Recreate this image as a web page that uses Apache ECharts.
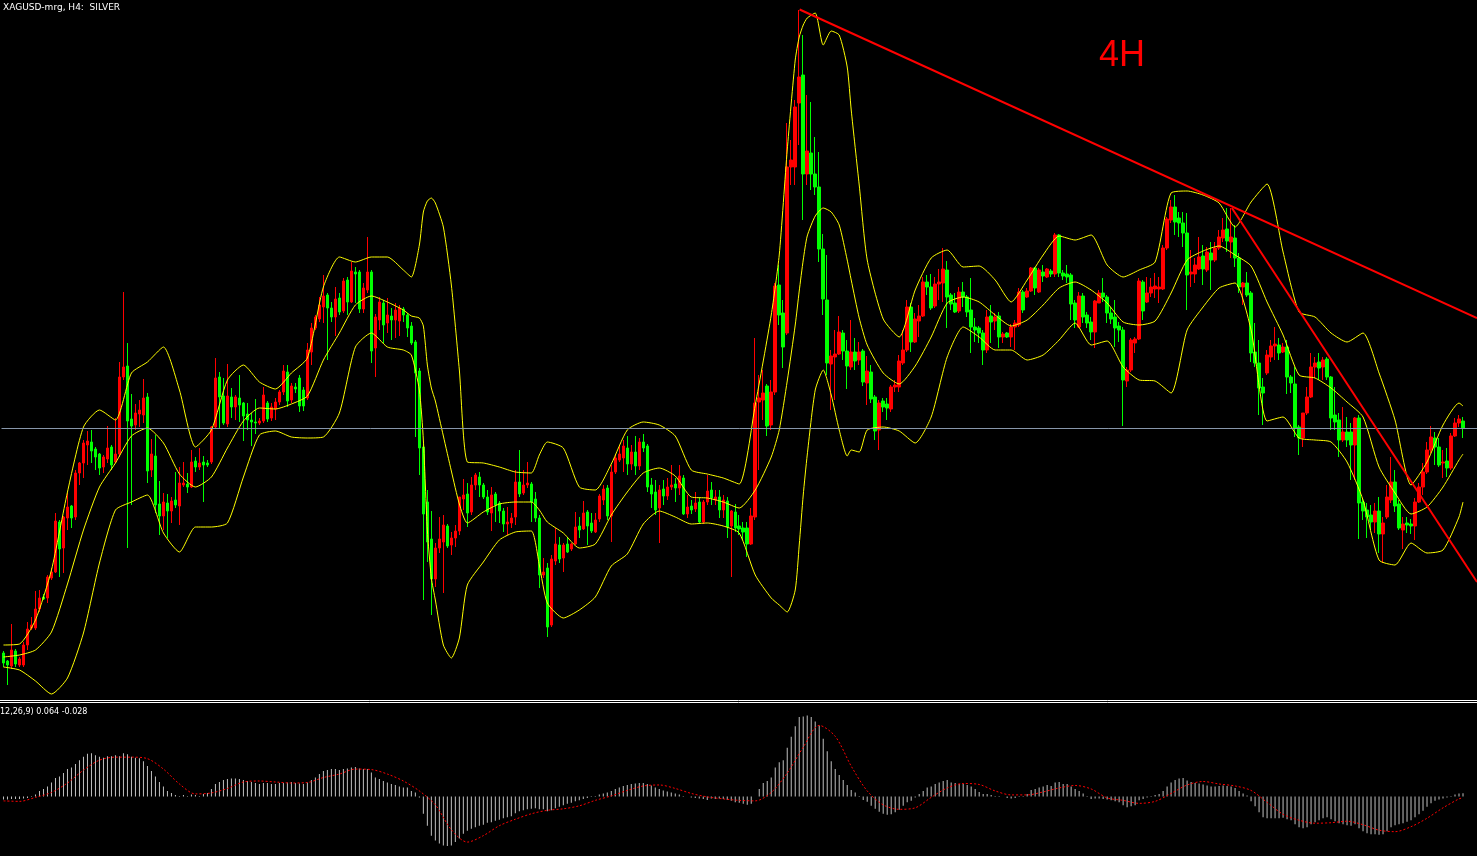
<!DOCTYPE html>
<html><head><meta charset="utf-8">
<script src="https://cdn.jsdelivr.net/npm/echarts@6/dist/echarts.min.js"></script>
<style>html,body{margin:0;padding:0;background:#000;overflow:hidden}#c{width:1477px;height:856px}</style>
</head><body><div id="c"></div>
<script>
// ---- XAGUSD H4 candles ----
const openP = [16.47,16.39,16.34,16.49,16.35,16.35,16.55,16.72,16.72,16.91,
17.03,17.02,17.22,17.28,17.78,17.52,17.82,17.94,17.83,18.27,
18.37,18.55,18.58,18.51,18.46,18.33,18.41,18.53,18.38,18.46,
19.23,19.34,18.81,18.75,18.86,18.85,19.03,18.30,18.44,17.96,
17.84,17.97,17.89,18.00,17.94,18.15,18.16,18.13,18.39,18.33,
18.38,18.37,18.38,18.73,19.23,19.04,18.76,19.03,18.93,19.02,
18.97,18.86,18.80,18.78,18.77,18.79,18.97,18.82,18.91,18.98,
19.08,19.28,19.00,19.13,19.22,19.10,19.02,19.48,19.72,19.81,
19.93,20.05,19.92,19.83,20.02,19.89,20.20,19.98,20.28,20.28,
19.91,20.10,20.28,19.52,19.80,19.97,19.77,19.84,19.80,19.79,
19.91,19.85,19.74,19.58,19.29,18.53,17.98,17.61,17.21,17.52,
17.58,17.74,17.55,17.62,17.69,18.01,18.06,17.88,18.15,18.23,
18.15,18.03,17.87,18.06,17.97,17.89,17.76,17.77,17.83,18.18,
18.07,18.15,18.16,18.01,17.82,17.25,17.32,16.75,17.39,17.55,
17.42,17.56,17.51,17.56,17.74,17.71,17.88,17.77,17.68,17.81,
18.00,18.12,17.84,18.28,18.40,18.42,18.52,18.36,18.48,18.34,
18.58,18.54,18.15,18.08,17.92,18.11,18.04,18.13,18.16,18.12,
18.22,17.86,17.94,17.91,17.98,17.78,17.98,18.10,18.00,18.03,
17.90,17.99,17.74,17.88,17.74,17.72,17.72,17.56,17.83,18.98,
19.00,19.14,18.75,19.08,20.15,19.87,19.67,21.33,21.33,21.97,
22.25,21.26,21.47,21.26,21.13,20.51,20.00,19.36,19.43,19.46,
19.67,19.49,19.33,19.48,19.40,19.49,19.17,19.28,19.03,18.70,
18.99,18.96,18.91,19.13,19.13,19.37,19.50,19.93,19.58,19.79,
19.84,20.18,20.13,19.94,20.16,20.17,20.30,20.05,19.97,19.89,
20.08,20.03,19.90,19.73,19.72,19.67,19.50,19.84,19.79,19.84,
19.63,19.67,19.63,19.73,19.75,20.08,20.03,20.09,20.32,20.08,
20.28,20.23,20.29,20.26,20.65,20.27,20.26,20.25,19.97,19.73,
20.04,19.85,19.78,19.68,19.97,20.07,20.03,19.87,19.83,19.74,
19.70,19.19,19.30,19.57,19.61,20.18,19.98,20.07,20.11,20.11,
20.11,20.52,20.80,20.93,20.82,20.77,20.67,20.26,20.26,20.31,
20.44,20.30,20.47,20.40,20.52,20.62,20.71,20.58,20.62,20.42,
20.13,20.17,20.07,19.48,19.37,19.13,19.27,19.43,19.54,19.55,
19.48,19.53,19.23,19.16,18.73,18.62,18.87,19.03,19.33,19.38,
19.33,19.41,19.23,18.85,18.80,18.60,18.68,18.68,18.55,18.82,
17.98,17.90,17.85,17.78,17.89,17.66,17.83,18.00,18.18,17.96,
17.70,17.77,17.76,17.74,17.98,18.13,18.28,18.50,18.62,18.53,
18.37,18.39,18.32,18.64,18.77,18.79];
const closeP = [16.37,16.35,16.50,16.36,16.41,16.55,16.71,16.75,16.91,17.02,
17.01,17.23,17.28,17.79,17.51,17.83,17.93,17.82,18.27,18.37,
18.57,18.59,18.49,18.43,18.32,18.43,18.52,18.35,18.46,19.23,
19.33,18.79,18.74,18.87,18.90,19.02,18.29,18.46,17.95,17.84,
17.98,17.89,17.99,17.95,18.17,18.17,18.13,18.38,18.33,18.37,
18.35,18.35,18.73,19.22,19.03,18.77,19.04,18.93,19.03,18.95,
18.84,18.80,18.78,18.77,18.79,19.05,18.81,18.93,18.98,19.08,
19.29,18.99,19.14,19.11,18.94,18.94,19.50,19.72,19.83,19.95,
20.04,19.92,19.83,20.01,19.88,20.19,19.98,20.29,20.26,19.91,
20.12,20.28,19.49,19.83,19.98,19.75,19.85,19.80,19.90,19.92,
19.85,19.72,19.57,19.27,18.52,17.86,17.58,17.21,17.52,17.61,
17.75,17.54,17.62,17.69,18.03,18.05,17.87,18.15,18.25,18.15,
18.03,17.88,18.05,17.95,17.89,17.76,17.78,17.82,18.18,18.06,
18.15,18.17,17.98,17.82,17.25,17.28,16.73,17.41,17.56,17.41,
17.55,17.48,17.56,17.73,17.70,17.87,17.74,17.69,17.80,18.04,
18.11,17.84,18.28,18.42,18.46,18.54,18.36,18.48,18.34,18.58,
18.52,18.13,18.06,17.90,18.10,18.04,18.13,18.15,18.12,18.24,
17.86,17.93,17.90,17.97,17.78,17.98,18.09,18.02,18.03,17.90,
18.00,17.73,17.89,17.72,17.71,17.68,17.56,17.84,18.97,19.02,
19.07,18.74,19.08,20.14,19.85,19.53,21.33,21.40,21.93,22.23,
21.26,21.49,21.26,21.13,20.51,20.01,19.37,19.44,19.46,19.68,
19.49,19.34,19.48,19.39,19.48,19.18,19.29,19.01,18.69,18.97,
18.93,18.92,19.13,19.15,19.39,19.50,19.93,19.58,19.81,19.84,
20.18,20.13,19.92,20.16,20.18,20.31,20.03,19.96,19.88,20.08,
20.03,19.88,19.73,19.70,19.67,19.50,19.83,19.78,19.83,19.63,
19.66,19.63,19.73,19.77,20.08,19.90,20.09,20.32,20.12,20.30,
20.24,20.31,20.26,20.65,20.27,20.24,20.23,19.96,19.80,20.04,
19.83,19.77,19.68,19.99,20.07,20.03,19.87,19.81,19.72,19.70,
19.20,19.30,19.60,19.61,20.19,19.89,20.07,20.13,20.14,20.13,
20.52,20.81,20.93,20.78,20.77,20.67,20.25,20.28,20.35,20.43,
20.31,20.48,20.40,20.52,20.63,20.70,20.59,20.63,20.42,20.13,
20.17,20.05,19.47,19.37,19.12,19.07,19.45,19.54,19.56,19.47,
19.53,19.23,19.17,18.72,18.62,18.87,19.03,19.33,19.37,19.32,
19.40,19.23,18.82,18.78,18.60,18.68,18.60,18.55,18.82,17.97,
17.89,17.83,17.78,17.89,17.66,17.77,18.03,18.18,17.94,17.72,
17.76,17.75,17.74,17.98,18.13,18.28,18.50,18.63,18.53,18.35,
18.38,18.32,18.64,18.77,18.81,18.72];
const highP = [16.49,16.40,16.76,16.51,16.43,16.58,16.78,16.83,17.09,17.10,
17.06,17.25,17.32,17.87,17.80,17.84,18.07,17.95,18.30,18.38,
18.60,18.69,18.70,18.53,18.47,18.45,18.74,18.55,18.82,19.38,
20.08,19.57,19.06,18.96,19.00,19.21,19.07,18.61,18.65,18.19,
18.07,18.06,18.03,18.28,18.33,18.38,18.27,18.50,18.43,18.52,
18.44,18.40,18.74,19.42,19.28,19.22,19.36,19.12,19.05,19.25,
18.98,18.97,18.87,19.01,18.82,19.13,18.99,18.97,19.02,19.10,
19.35,19.35,19.17,19.17,19.25,19.13,19.57,19.77,19.85,20.03,
20.25,20.07,19.98,20.13,20.07,20.22,20.23,20.38,20.33,20.30,
20.17,20.63,20.30,19.86,20.03,20.00,20.02,19.92,19.97,19.95,
19.93,19.87,19.78,19.60,19.32,18.57,18.10,17.89,17.57,17.83,
17.85,17.76,17.68,17.75,18.03,18.21,18.17,18.23,18.27,18.28,
18.17,18.10,18.13,18.08,17.99,17.92,17.93,17.87,18.30,18.50,
18.30,18.38,18.18,18.08,17.85,17.42,17.37,17.45,17.72,17.63,
17.57,17.63,17.57,17.88,17.83,17.99,17.90,17.87,17.87,18.06,
18.15,18.15,18.35,18.46,18.54,18.60,18.64,18.55,18.64,18.62,
18.66,18.56,18.22,18.20,18.15,18.20,18.22,18.35,18.22,18.35,
18.25,18.05,18.00,18.08,18.02,18.00,18.25,18.18,18.10,18.10,
18.05,18.03,17.90,17.96,17.85,17.78,17.78,17.92,19.62,19.25,
19.30,19.16,19.20,20.17,20.35,20.00,21.77,21.60,22.00,22.90,
22.65,22.05,21.98,21.63,21.48,20.66,20.45,19.50,19.70,19.84,
19.70,19.60,19.80,19.62,19.58,19.51,19.44,19.35,19.05,19.00,
19.02,19.02,19.15,19.20,19.45,19.70,20.00,19.97,19.87,19.95,
20.23,20.25,20.26,20.23,20.31,20.52,20.39,20.07,20.07,20.13,
20.18,20.05,20.22,19.82,19.74,19.70,19.90,19.95,19.87,19.88,
19.68,19.68,19.76,19.80,20.12,20.10,20.12,20.33,20.33,20.32,
20.35,20.32,20.31,20.67,20.66,20.30,20.35,20.27,20.00,20.08,
20.07,19.88,19.83,20.00,20.10,20.22,20.05,19.93,20.00,19.78,
19.73,19.33,19.62,19.63,20.22,20.20,20.23,20.22,20.27,20.23,
20.55,20.83,21.00,21.05,20.88,20.88,20.87,20.50,20.42,20.63,
20.55,20.53,20.58,20.58,20.70,20.82,20.92,20.92,20.75,20.47,
20.18,20.28,20.09,19.77,19.60,19.22,19.50,19.60,19.73,19.62,
19.57,19.60,19.25,19.33,18.75,18.87,19.13,19.47,19.43,19.47,
19.43,19.43,19.24,19.13,18.87,18.93,18.83,18.77,18.83,18.85,
18.02,17.97,17.95,17.97,18.03,17.83,18.15,18.43,18.30,18.00,
17.83,17.83,17.81,18.02,18.17,18.37,18.58,18.74,18.68,18.62,
18.50,18.52,18.67,18.82,18.85,18.83];
const lowP = [16.33,16.15,16.31,16.33,16.33,16.33,16.50,16.70,16.70,16.88,
17.00,16.97,17.20,17.27,17.23,17.27,17.70,17.72,17.80,18.15,
18.22,18.35,18.37,18.30,18.25,18.27,18.37,18.30,18.37,18.43,
19.20,17.52,17.95,18.70,18.73,18.77,18.17,18.23,17.87,17.65,
17.70,17.62,17.77,17.92,17.75,18.13,18.07,18.12,18.28,18.30,
17.98,18.33,18.36,18.72,18.72,18.75,18.73,18.82,18.80,18.78,
18.59,18.70,18.54,18.66,18.75,18.77,18.78,18.79,18.80,18.95,
19.05,18.93,18.97,19.07,18.88,18.89,19.00,19.35,19.70,19.78,
19.77,19.40,19.78,19.64,19.85,19.87,19.85,19.97,19.97,19.87,
19.87,20.07,19.37,19.23,19.70,19.57,19.67,19.60,19.62,19.64,
19.78,19.63,19.55,18.63,18.25,17.00,17.38,16.85,17.13,17.47,
17.07,17.52,17.45,17.53,17.65,17.90,17.73,17.85,18.10,18.03,
18.01,17.85,17.69,17.78,17.77,17.68,17.65,17.72,17.75,18.03,
18.05,18.12,17.78,17.78,17.12,17.22,16.63,16.73,17.35,17.37,
17.28,17.47,17.49,17.55,17.62,17.70,17.55,17.67,17.67,17.78,
17.95,17.80,17.58,18.26,18.38,18.28,18.25,18.30,18.25,18.30,
18.48,18.08,17.92,17.85,17.57,17.95,18.00,18.10,17.98,18.05,
17.85,17.82,17.86,17.88,17.76,17.76,17.95,17.95,17.95,17.82,
17.82,17.62,17.23,17.68,17.65,17.60,17.43,17.55,17.80,18.30,
18.80,18.64,18.70,19.05,19.75,19.32,19.65,21.15,21.15,21.55,
20.80,21.15,21.10,21.05,20.38,19.85,19.25,18.90,19.00,19.45,
19.40,19.11,19.30,19.30,19.35,19.14,18.95,18.97,18.60,18.50,
18.88,18.80,18.88,19.08,19.08,19.35,19.48,19.48,19.57,19.63,
19.83,20.05,19.90,19.92,20.00,19.98,19.72,19.90,19.87,19.87,
19.93,19.83,19.47,19.58,19.57,19.35,19.47,19.57,19.70,19.52,
19.57,19.62,19.53,19.50,19.73,19.87,20.02,20.08,20.05,20.07,
20.18,20.22,20.23,20.23,20.23,20.20,20.17,19.80,19.72,19.72,
19.77,19.72,19.60,19.52,19.97,19.98,19.77,19.76,19.53,19.58,
18.74,19.13,19.28,19.47,19.60,19.80,19.97,20.03,20.02,19.97,
20.10,20.50,20.77,20.65,20.63,20.53,19.90,20.13,20.17,20.30,
20.15,20.28,20.10,20.38,20.50,20.58,20.48,20.42,20.33,20.07,
19.95,20.03,19.38,19.33,18.85,18.75,19.25,19.38,19.40,19.40,
19.47,19.06,19.07,18.63,18.45,18.53,18.85,19.02,19.22,19.20,
19.20,19.20,18.70,18.70,18.43,18.58,18.53,18.20,18.20,17.61,
17.80,17.62,17.70,17.67,17.47,17.37,17.81,17.97,17.88,17.70,
17.51,17.67,17.66,17.60,17.97,18.05,18.26,18.47,18.35,18.33,
18.22,18.23,18.30,18.63,18.73,18.62];

// ---- Bollinger Bands (at these bar positions) ----
const bandIdx = [0,4,8,12,16,20,24,28,32,36,40,44,48,52,56,60,64,68,72,76,80,84,88,92,96,100,
102,104,105,106,107,108,110,112,114,116,120,124,128,132,134,136,
140,144,148,152,156,160,164,168,172,176,180,184,188,192,
194,196,198,199,200,201,203,205,207,209,211,212,214,216,
220,224,228,232,236,240,244,248,252,256,260,264,268,272,276,280,284,288,292,296,300,304,308,312,316,320,324,328,332,336,340,344,348,352,356,360,364,365];
const bandUpper = [16.55,16.56,16.80,17.30,18.08,18.73,18.90,18.80,19.27,19.38,19.53,19.10,18.53,18.70,19.20,19.35,19.18,19.11,19.27,19.42,20.13,20.43,20.38,20.43,20.43,20.30,
20.23,20.55,20.88,20.99,21.02,20.97,20.73,20.15,19.30,18.38,18.37,18.33,18.28,18.27,18.45,18.58,
18.52,18.13,18.10,18.36,18.70,18.78,18.75,18.64,18.30,18.26,18.22,18.16,18.95,19.85,
20.45,21.50,22.40,22.63,22.75,22.82,22.87,22.55,22.69,22.65,22.33,21.90,21.15,20.40,
19.81,19.63,20.10,20.42,20.50,20.33,20.34,20.20,19.98,20.20,20.45,20.64,20.60,20.65,20.35,20.23,20.30,20.38,21.07,21.09,21.05,20.97,20.73,20.98,21.16,20.48,19.88,19.83,19.67,19.58,19.67,19.27,18.80,18.15,18.38,18.75,18.97,18.94];
const bandMiddle = [16.43,16.45,16.50,16.68,17.16,17.70,18.13,18.37,18.64,18.72,18.57,18.26,18.13,18.23,18.52,18.79,18.92,18.91,18.96,19.04,19.40,19.67,19.95,20.04,19.98,19.90,
19.84,19.82,19.74,19.35,19.12,18.99,18.64,18.29,17.96,17.77,17.88,17.96,17.98,17.98,17.90,17.78,
17.67,17.52,17.56,17.85,18.08,18.27,18.32,18.24,18.03,18.02,17.98,17.92,18.10,18.43,
18.70,19.19,19.75,20.09,20.40,20.64,20.84,20.92,20.88,20.75,20.40,20.20,19.82,19.55,
19.27,19.16,19.34,19.63,19.97,20.03,19.98,19.85,19.74,19.80,19.95,20.12,20.18,20.10,19.97,19.78,19.75,19.79,20.07,20.40,20.49,20.54,20.45,20.34,19.98,19.65,19.25,19.22,19.12,18.98,18.83,18.33,18.07,17.86,17.93,18.13,18.40,18.46];
const bandLower = [16.33,16.30,16.19,16.06,16.22,16.67,17.37,17.90,17.98,18.05,17.67,17.48,17.73,17.73,17.77,18.23,18.65,18.69,18.63,18.62,18.63,18.87,19.53,19.67,19.53,19.50,
19.45,19.10,18.60,17.70,17.22,17.00,16.55,16.42,16.62,17.15,17.38,17.60,17.68,17.69,17.35,16.97,
16.82,16.90,17.03,17.34,17.46,17.76,17.89,17.83,17.76,17.77,17.74,17.67,17.25,17.02,
16.95,16.88,17.10,17.55,18.05,18.45,19.10,19.30,19.05,18.70,18.44,18.50,18.48,18.70,
18.73,18.69,18.57,18.83,19.43,19.73,19.63,19.50,19.50,19.40,19.45,19.60,19.77,19.55,19.59,19.33,19.20,19.19,19.07,19.70,19.93,20.12,20.17,19.70,18.79,18.83,18.62,18.60,18.58,18.38,18.00,17.40,17.35,17.57,17.47,17.50,17.83,17.98];

// ---- MACD(12,26,9) ----
const macdMain = [-0.06,-0.06,-0.05,-0.05,-0.05,-0.04,-0.03,-0.01,0.04,0.11,
0.15,0.20,0.28,0.37,0.40,0.47,0.55,0.58,0.65,0.73,
0.80,0.86,0.87,0.83,0.80,0.78,0.81,0.81,0.83,0.81,
0.87,0.85,0.80,0.78,0.77,0.71,0.61,0.51,0.40,0.29,
0.20,0.11,0.07,0.03,0.01,0.03,0.01,0.04,0.03,0.01,
0.05,0.07,0.15,0.25,0.29,0.33,0.35,0.36,0.36,0.35,
0.33,0.31,0.29,0.27,0.25,0.27,0.27,0.25,0.25,0.27,
0.27,0.28,0.29,0.27,0.26,0.25,0.28,0.33,0.38,0.45,
0.51,0.53,0.55,0.55,0.53,0.55,0.56,0.58,0.59,0.56,
0.55,0.55,0.48,0.38,0.35,0.31,0.28,0.25,0.23,0.20,
0.18,0.18,0.11,0.08,-0.02,-0.35,-0.59,-0.79,-0.89,-0.95,
-0.99,-1.00,-0.99,-0.92,-0.85,-0.75,-0.69,-0.65,-0.62,-0.59,
-0.57,-0.53,-0.52,-0.49,-0.47,-0.44,-0.42,-0.40,-0.34,-0.30,
-0.28,-0.26,-0.25,-0.24,-0.26,-0.26,-0.30,-0.28,-0.24,-0.21,
-0.18,-0.15,-0.13,-0.10,-0.08,-0.05,-0.03,-0.01,0.01,0.04,
0.06,0.08,0.11,0.15,0.18,0.21,0.23,0.25,0.26,0.27,
0.27,0.25,0.22,0.18,0.15,0.12,0.10,0.08,0.06,0.04,
0.01,0.00,-0.02,-0.03,-0.04,-0.05,-0.07,-0.04,-0.05,-0.04,
-0.05,-0.07,-0.09,-0.12,-0.13,-0.15,-0.17,-0.15,0.00,0.15,
0.27,0.31,0.38,0.58,0.69,0.73,0.98,1.20,1.41,1.60,
1.61,1.63,1.60,1.51,1.43,1.16,0.91,0.71,0.55,0.43,
0.33,0.23,0.13,0.08,0.01,-0.07,-0.11,-0.19,-0.25,-0.31,
-0.35,-0.37,-0.36,-0.32,-0.27,-0.19,-0.12,-0.09,-0.02,0.05,
0.11,0.18,0.20,0.25,0.28,0.31,0.33,0.28,0.27,0.25,
0.25,0.23,0.20,0.15,0.09,0.05,0.05,0.03,0.01,-0.01,
0.00,-0.03,-0.04,-0.03,0.01,0.01,0.05,0.13,0.15,0.18,
0.20,0.23,0.21,0.28,0.29,0.25,0.25,0.20,0.15,0.11,
0.06,0.01,-0.05,-0.04,-0.04,-0.05,-0.06,-0.08,-0.10,-0.12,
-0.18,-0.22,-0.20,-0.18,-0.08,-0.05,-0.02,0.01,0.03,0.05,
0.11,0.20,0.28,0.33,0.36,0.37,0.32,0.29,0.27,0.26,
0.24,0.22,0.20,0.20,0.21,0.22,0.21,0.20,0.17,0.11,
0.06,0.02,-0.10,-0.20,-0.32,-0.42,-0.44,-0.44,-0.44,-0.44,
-0.43,-0.46,-0.48,-0.56,-0.62,-0.64,-0.62,-0.56,-0.52,-0.48,
-0.44,-0.42,-0.46,-0.50,-0.54,-0.56,-0.58,-0.59,-0.56,-0.64,
-0.70,-0.74,-0.76,-0.76,-0.77,-0.76,-0.70,-0.62,-0.58,-0.56,
-0.54,-0.51,-0.48,-0.42,-0.36,-0.29,-0.21,-0.14,-0.09,-0.06,
-0.04,-0.02,0.01,0.04,0.06,0.064];
const signalIdx = [0,4,8,12,16,20,24,28,32,36,40,44,48,52,56,60,64,68,72,76,80,84,88,92,96,100,104,108,112,116,120,124,128,132,136,140,144,148,152,156,160,164,168,172,176,180,184,188,192,196,200,204,208,212,216,220,224,228,232,236,240,244,248,252,256,260,264,268,272,276,280,284,288,292,296,300,304,308,312,316,320,324,328,332,336,340,344,348,352,356,360,364,365];
const macdSignal = [-0.09,-0.10,-0.02,0.08,0.27,0.53,0.73,0.79,0.79,0.76,0.55,0.25,0.05,0.07,0.16,0.29,0.31,0.29,0.27,0.28,0.38,0.45,0.55,0.54,0.45,0.31,0.11,-0.17,-0.67,-0.92,-0.79,-0.59,-0.46,-0.35,-0.28,-0.25,-0.19,-0.08,0.01,0.12,0.21,0.23,0.16,0.06,-0.01,-0.05,-0.08,-0.09,0.08,0.47,0.99,1.43,1.21,0.61,0.11,-0.17,-0.26,-0.23,-0.02,0.17,0.26,0.24,0.11,0.03,0.03,0.09,0.17,0.22,0.15,-0.03,-0.08,-0.14,-0.10,0.06,0.23,0.30,0.25,0.21,0.12,-0.12,-0.36,-0.48,-0.54,-0.53,-0.50,-0.57,-0.68,-0.71,-0.61,-0.44,-0.23,-0.05,-0.028];

// ---- Drawn objects ----
const trendLines = [
  [[199.1, 22.905], [368.5, 19.82]],
  [[307.2, 20.92], [368.5, 17.18]]
];
const bidPrice = 18.72;
const slotCount = 369; // 366 bars + chart shift
const categories = Array.from({length: slotCount}, (_, i) => 'bar' + i);

const candleData = openP.map((o, i) => [o, closeP[i], lowP[i], highP[i]]);
const pairs = (idx, vals) => idx.map((x, k) => [x, vals[k]]);

const chart = echarts.init(document.getElementById('c'), null, {renderer: 'canvas'});
const bandLine = (name, vals) => ({
  name, type: 'line', xAxisIndex: 0, yAxisIndex: 0,
  data: pairs(bandIdx, vals), symbol: 'none', smooth: 0.2, z: 4,
  lineStyle: {color: '#ffff00', width: 1}, silent: true
});

chart.setOption({
  backgroundColor: '#000000',
  animation: false,
  grid: [
    {left: 1.5, top: 0, width: 1476, height: 700},
    {left: 1.5, top: 707, width: 1476, height: 150}
  ],
  xAxis: [
    {type: 'category', gridIndex: 0, data: categories, show: false},
    {type: 'value', gridIndex: 0, min: -0.5, max: slotCount - 0.5, show: false},
    {type: 'category', gridIndex: 1, data: categories, show: false}
  ],
  yAxis: [
    {type: 'value', gridIndex: 0, min: 16, max: 23, show: false, splitLine: {show: false}},
    {type: 'value', gridIndex: 1, min: -1.2, max: 1.8, show: false, splitLine: {show: false}}
  ],
  series: [
    {
      type: 'candlestick', xAxisIndex: 0, yAxisIndex: 0, data: candleData,
      barWidth: 3, z: 3,
      itemStyle: {color: '#ff0000', color0: '#00ff00', borderColor: '#ff0000', borderColor0: '#00ff00', borderWidth: 1},
      markLine: {
        silent: true, symbol: 'none', label: {show: false},
        lineStyle: {color: '#8796aa', width: 1, type: 'solid'},
        data: [{yAxis: bidPrice}]
      }
    },
    bandLine('upper', bandUpper),
    bandLine('middle', bandMiddle),
    bandLine('lower', bandLower),
    ...trendLines.map(t => ({
      type: 'line', xAxisIndex: 1, yAxisIndex: 0, data: t, symbol: 'none', z: 6,
      lineStyle: {color: '#ff0000', width: 2}, silent: true
    })),
    {
      type: 'bar', xAxisIndex: 2, yAxisIndex: 1, data: macdMain, barWidth: 1,
      itemStyle: {color: '#c0c0c0'}, silent: true
    },
    {
      type: 'line', xAxisIndex: 2, yAxisIndex: 1, data: pairs(signalIdx, macdSignal),
      symbol: 'none', smooth: 0.3, z: 5,
      lineStyle: {color: '#ff0000', width: 1, type: [2, 2]}, silent: true
    }
  ],
  graphic: [
    {type: 'text', x: 3, y: 8, style: {text: 'XAGUSD-mrg, H4:  SILVER', fill: '#ffffff', font: '9px "DejaVu Sans"', verticalAlign: 'middle', textVerticalAlign: 'middle'}},
    {type: 'text', x: 1099, y: 56, style: {text: '4H', fill: '#ff0000', font: '36px "Liberation Sans"', verticalAlign: 'middle', textVerticalAlign: 'middle'}},
    {type: 'text', x: 0, y: 712, style: {text: '12,26,9) 0.064 -0.028', fill: '#ffffff', font: '8px "DejaVu Sans"', verticalAlign: 'middle', textVerticalAlign: 'middle'}},
    {type: 'line', shape: {x1: 0, y1: 700.5, x2: 1477, y2: 700.5}, style: {stroke: '#ffffff', lineWidth: 1}},
    {type: 'line', shape: {x1: 0, y1: 702.5, x2: 1477, y2: 702.5}, style: {stroke: '#ffffff', lineWidth: 1}}
  ]
});
</script>
</body></html>
